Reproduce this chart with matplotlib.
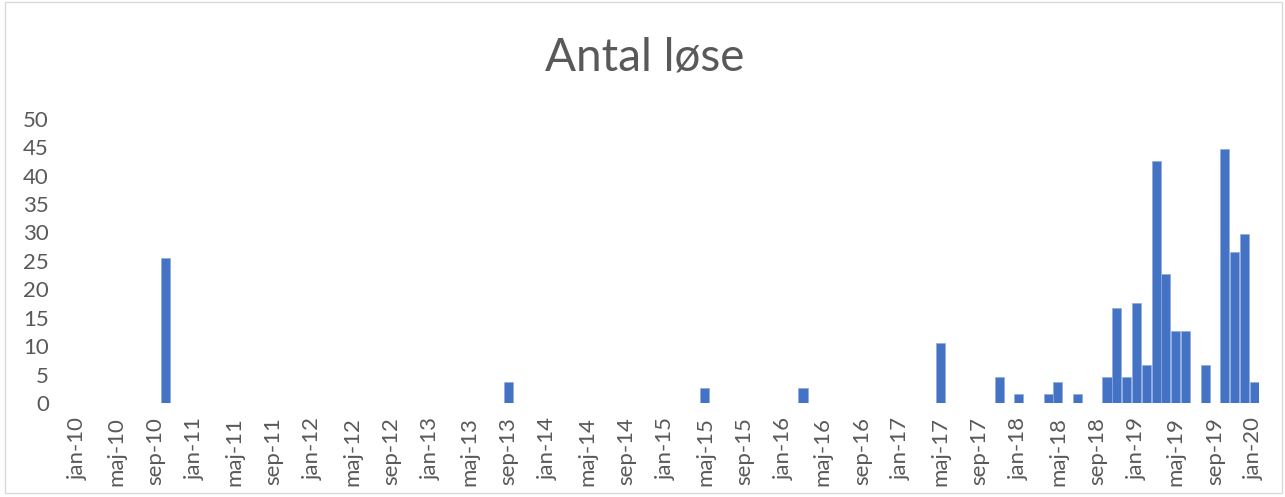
import matplotlib
matplotlib.use('Agg')
import matplotlib.pyplot as plt
import numpy as np
import pandas as pd
from matplotlib.patches import Rectangle

# Danish month abbreviations used on the axis
month_names = ['jan', 'feb', 'mar', 'apr', 'maj', 'jun',
               'jul', 'aug', 'sep', 'okt', 'nov', 'dec']

# months that have a bar, and their heights
bar_months = ['2010-10', '2013-09', '2015-05', '2016-03', '2017-05', '2017-11',
              '2018-01', '2018-04', '2018-05', '2018-07', '2018-10', '2018-11',
              '2018-12', '2019-01', '2019-02', '2019-03', '2019-04', '2019-05',
              '2019-06', '2019-08', '2019-10', '2019-11', '2019-12', '2020-01']
bar_values = [25.6, 3.7, 2.6, 2.6, 10.6, 4.7,
              1.6, 1.6, 3.7, 1.6, 4.7, 16.7,
              4.7, 17.7, 6.7, 42.6, 22.7, 12.7,
              12.7, 6.7, 44.6, 26.6, 29.7, 3.7]

months = pd.date_range('2010-01-01', '2020-01-01', freq='MS')
counts = pd.Series(0.0, index=months)
for m, v in zip(bar_months, bar_values):
    counts[pd.Timestamp(m + '-01')] = v

W, H = 1285, 497
fig = plt.figure(figsize=(W / 100, H / 100), dpi=100)
fig.patches.append(Rectangle((5 / W, 4 / H), 1277 / W, 491 / H, transform=fig.transFigure,
                             fill=False, edgecolor='#d9d9d9', linewidth=1))

left, right, bottom, top = 72.4, 1259, 403.3, 118.6
ax = fig.add_axes([left / W, 1 - bottom / H, (right - left) / W, (bottom - top) / H])

x = np.arange(len(months))
ax.bar(x, counts.values, width=0.92, color='#4472C4', edgecolor='#8faadc', linewidth=0.5)

ax.set_xlim(-0.5, len(months) - 0.5)
ax.set_ylim(0, 50)
ax.set_yticks(np.arange(0, 51, 5))

tick_idx = x[::4]
labels = [f"{month_names[months[i].month - 1]}-{months[i].year % 100:02d}" for i in tick_idx]
ax.set_xticks(tick_idx)
ax.set_xticklabels(labels, rotation=90)

for s in ax.spines.values():
    s.set_visible(False)
ax.tick_params(axis='both', length=0, colors='#595959', labelsize=16)
ax.tick_params(axis='y', pad=17)
ax.tick_params(axis='x', pad=10)
for t in ax.get_xticklabels() + ax.get_yticklabels():
    t.set_fontfamily('Lato')

fig.text(645 / W, 1 - 57 / H, 'Antal løse', ha='center', va='center',
         fontsize=33, color='#595959', fontfamily='Lato')

fig.savefig('out.png', dpi=100)
